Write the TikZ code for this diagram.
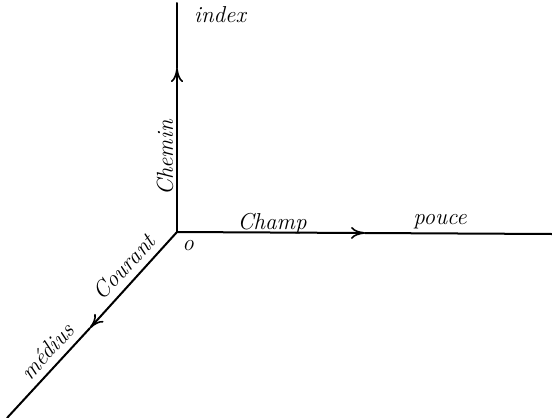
\documentclass[tikz,border=0pt]{standalone}
\usetikzlibrary{arrows.meta}
\begin{document}
\begin{tikzpicture}[x=1pt,y=1pt,
  axis/.style={line width=2pt,line cap=round},
  tip/.style={-{To[length=14pt,width=12pt,line width=1.6pt]}},
  lbl/.style={font=\fontsize{23}{26}\selectfont\itshape,inner sep=0pt}]
\useasboundingbox (0,0) rectangle (552,-418);
\coordinate (O) at (177,-232);
\coordinate (Vtop) at (177,-3);
\coordinate (Varr) at (177,-68);
\coordinate (Hend) at (552,-234);
\coordinate (Harr) at (365,-233);
\coordinate (Dend) at (7,-418);
\coordinate (Darr) at (90,-328);
% vertical axis
\draw[axis,tip] (O) -- (Varr);
\draw[axis] (Varr) -- (Vtop);
% horizontal axis
\draw[axis,tip] (O) -- (Harr);
\draw[axis] (Harr) -- (Hend);
% diagonal axis
\draw[axis,tip] (O) -- (Darr);
\draw[axis] (Darr) -- (Dend);
% labels
\node[lbl] (index) at (220,-15) {index};
\node[lbl,rotate=90] (chemin) at (165,-158) {Chemin};
\node[lbl] (champ) at (272,-224) {Champ};
\node[lbl] (pouce) at (440,-222) {pouce};
\node[lbl] (o) at (188,-246) {o};
\node[lbl,rotate=47.6] (courant) at (124,-267) {Courant};
\node[lbl,rotate=47.6] (medius) at (47,-351) {médius};
\end{tikzpicture}
\end{document}
